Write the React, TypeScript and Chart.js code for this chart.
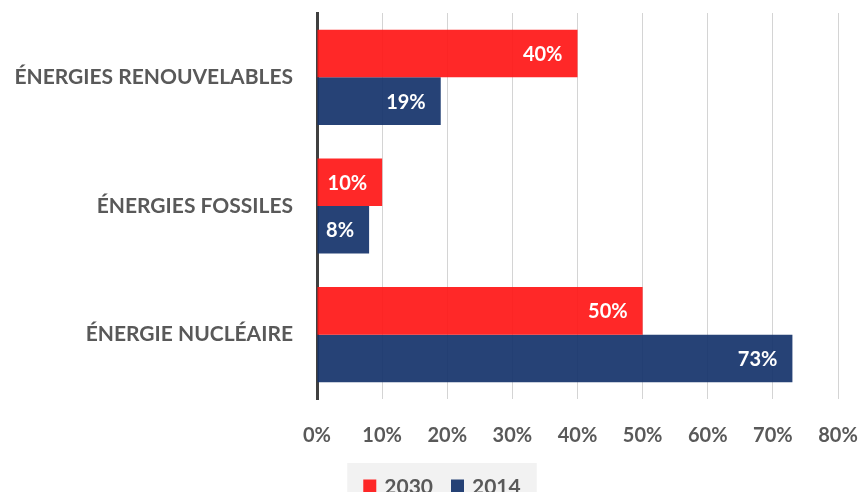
import React, { useEffect, useRef } from "react";
import { Chart, registerables } from "chart.js";

Chart.register(...registerables);

const categories = ["ÉNERGIES RENOUVELABLES", "ÉNERGIES FOSSILES", "ÉNERGIE NUCLÉAIRE"];
const seriesNames = ["2030", "2014"];
const values2030 = [40, 10, 50];
const values2014 = [19, 8, 73];
const tickMax = 80;
const tickStep = 10;

const FONT = "Lato";
const GRAY = "#595959";
const RED = "rgba(255, 24, 24, 0.93)";
const BLUE = "rgba(22, 52, 108, 0.93)";

const valueLabels = {
  id: "valueLabels",
  afterDatasetsDraw(chart: any) {
    const ctx = chart.ctx;
    ctx.save();
    ctx.font = `bold 20px ${FONT}`;
    ctx.fillStyle = "#ffffff";
    ctx.textAlign = "right";
    ctx.textBaseline = "middle";
    chart.data.datasets.forEach((ds: any, i: number) => {
      const meta = chart.getDatasetMeta(i);
      meta.data.forEach((el: any, j: number) => {
        ctx.fillText(ds.data[j] + "%", el.x - 15, el.y + 1);
      });
    });
    ctx.restore();
  },
};

const customLegend = {
  id: "customLegend",
  afterDraw(chart: any) {
    const ctx = chart.ctx;
    ctx.save();
    ctx.font = `bold 21px ${FONT}`;
    const sq = 13;
    const gapSqText = 8;
    const gapItems = 18;
    const padX = 16;
    const items = chart.data.datasets.map((ds: any) => ({
      label: ds.label,
      color: ds.backgroundColor,
      w: ctx.measureText(ds.label).width,
    }));
    let total = 0;
    items.forEach((it: any, i: number) => {
      total += sq + gapSqText + it.w + (i < items.length - 1 ? gapItems : 0);
    });
    const cx = 442;
    const boxL = cx - total / 2 - padX;
    const boxW = total + padX * 2;
    const top = 463;
    ctx.fillStyle = "#f2f2f2";
    ctx.fillRect(boxL, top, boxW, 60);
    let x = cx - total / 2;
    const cy = 486;
    items.forEach((it: any) => {
      ctx.fillStyle = it.color;
      ctx.fillRect(x, cy - sq / 2, sq, sq);
      x += sq + gapSqText;
      ctx.fillStyle = GRAY;
      ctx.textAlign = "left";
      ctx.textBaseline = "middle";
      ctx.fillText(it.label, x, cy + 1);
      x += it.w + gapItems;
    });
    ctx.restore();
  },
};

export default function App() {
  const ref = useRef<HTMLCanvasElement>(null);
  useEffect(() => {
    if (!ref.current) return;
    const chart = new Chart(ref.current, {
      type: "bar",
      data: {
        labels: categories,
        datasets: [
          { label: seriesNames[0], data: values2030, backgroundColor: RED, categoryPercentage: 0.74, barPercentage: 1 },
          { label: seriesNames[1], data: values2014, backgroundColor: BLUE, categoryPercentage: 0.74, barPercentage: 1 },
        ],
      },
      options: {
        indexAxis: "y",
        responsive: false,
        animation: false,
        layout: { padding: { top: 13, right: 24, left: 0, bottom: 51 } },
        plugins: {
          legend: { display: false },
          tooltip: { enabled: false },
        },
        scales: {
          x: {
            min: 0,
            max: tickMax,
            ticks: {
              stepSize: tickStep,
              callback: (v: any) => v + "%",
              color: GRAY,
              font: { family: FONT, weight: "bold", size: 20 },
              padding: 25,
              maxRotation: 0,
            },
            grid: { color: "#d4d4d4", lineWidth: 1, drawTicks: false },
            border: { display: false },
            afterFit: (s: any) => {
              s.height = 60;
              s.paddingLeft = 0;
              s.paddingRight = 0;
            },
          },
          y: {
            ticks: {
              color: GRAY,
              font: { family: FONT, weight: "bold", size: 21 },
              padding: 24,
            },
            grid: { display: false, drawTicks: false },
            border: { display: true, color: "#404040", width: 3 },
            afterFit: (s: any) => {
              s.width = 317;
              s.paddingTop = 0;
              s.paddingBottom = 0;
            },
          },
        },
      },
      plugins: [valueLabels, customLegend],
    });
    return () => chart.destroy();
  }, []);
  return (
    <div style={{ position: "fixed", left: 0, top: 0, width: 862, height: 492, overflow: "hidden", background: "#fff" }}>
      <canvas ref={ref} width={862} height={510} style={{ display: "block" }} />
    </div>
  );
}
